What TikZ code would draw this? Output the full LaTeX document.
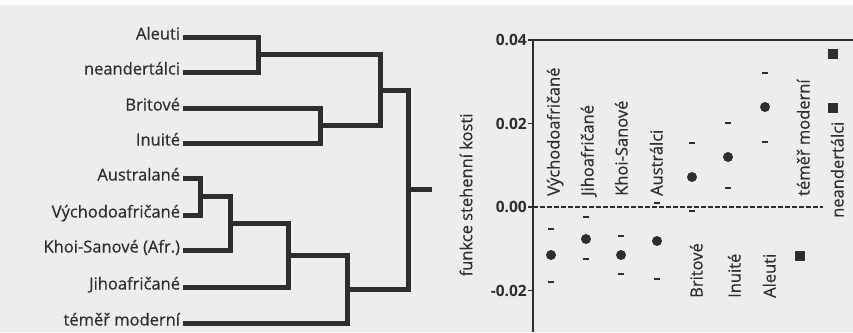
\documentclass[tikz,border=0pt]{standalone}
\usepackage{fontspec}
\setmainfont{Open Sans}
\newfontfamily\scanfont{Open Sans}[FakeBold=0.5]
\usetikzlibrary{calc}
\definecolor{ink}{HTML}{2E2E2E}
\definecolor{paper}{HTML}{EDEDED}
\newcommand{\labfont}{\scanfont\fontsize{16.5}{19}\selectfont}
\newcommand{\tickfont}{\bfseries\fontsize{15.5}{18}\selectfont}

\begin{document}
\begin{tikzpicture}[x=1pt,y=-1pt,
  leaf/.style={anchor=east,inner sep=0pt,outer sep=3pt,text height=0.72em,text depth=0.22em,font=\labfont,text=ink},
  grp/.style={rotate=90,anchor=west,inner sep=0pt,text height=0.72em,text depth=0.22em,font=\labfont,text=ink},
  branch/.style={line width=5pt,draw=ink},
  ticklab/.style={anchor=east,inner sep=1pt,font=\tickfont,text=ink},
  bar/.style={fill=ink,minimum width=6pt,minimum height=2pt,inner sep=0pt}]
\useasboundingbox (0,0) rectangle (853,332);
% scanned page
\fill[paper] (0,5) rectangle (853,332);
% tree leaves
\node[leaf] (aleuti)  at (183,37)  {Aleuti};
\node[leaf] (neand)   at (183,72)  {neandertálci};
\node[leaf] (brit)    at (183,108) {Britové};
\node[leaf] (inuit)   at (183,143) {Inuité};
\node[leaf] (austral) at (183,178) {Australané};
\node[leaf] (vychod)  at (183,215) {Východoafričané};
\node[leaf] (khoi)    at (183,250) {Khoi-Sanové (Afr.)};
\node[leaf] (jiho)    at (183,287) {Jihoafričané};
\node[leaf] (modern)  at (183,323) {téměř moderní};
% joins
\coordinate (j1) at (258,54.5);
\coordinate (j2) at (320,125.5);
\coordinate (j3) at (380,90);
\coordinate (j4) at (200,196.5);
\coordinate (j5) at (230,223);
\coordinate (j6) at (288,255);
\coordinate (j7) at (347,289);
\coordinate (root) at (408,189.5);
\coordinate (stub) at (432,189.5);
\draw[branch] (aleuti.east) -| (j1) |- (neand.east);
\draw[branch] (brit.east) -| (j2) |- (inuit.east);
\draw[branch] (j1) -| (j3) |- (j2);
\draw[branch] (austral.east) -| (j4) |- (vychod.east);
\draw[branch] (j4) -| (j5) |- (khoi.east);
\draw[branch] (j5) -| (j6) |- (jiho.east);
\draw[branch] (j6) -| (j7) |- (modern.east);
\draw[branch] (j3) -| (root) |- (j7);
\draw[branch] (root) -- (stub);
% axes
\draw[ink,line width=2.5pt] (533,332) -- (533,40) -- (853,40);
\foreach \v/\y [count=\i] in {0.04/40,0.02/123.5,0.00/207,-0.02/290.5} {
  \draw[ink,line width=1.2pt] (528,\y) -- (533,\y);
  \node[ticklab] (t\i) at (528,\y) {\v};
}
\node[rotate=90,font=\labfont,text=ink] (ylab) at (466,195) {funkce stehenní kosti};
\draw[ink,line width=1.2pt,dash pattern=on 5pt off 2pt] (533,207) -- (823,207);
% means with error bars
\foreach \x/\d/\hi/\lo [count=\i] in {551/255/229/282,586/239/217/259,621/255/236/274,
    657/241/203/279,692/177/143/211,728/157/123/188,765/107/73/142} {
  \fill[ink] (\x,\d) circle (5);
  \node[bar] (hi\i) at (\x,\hi) {};
  \node[bar] (lo\i) at (\x,\lo) {};
}
% single finds
\fill[ink] (795,251) rectangle (805,261);
\fill[ink] (828,49) rectangle (838,59);
\fill[ink] (828,103) rectangle (838,113);
% group names
\node[grp] (g1) at (557,196) {Východoafričané};
\node[grp] (g2) at (591,196) {Jihoafričané};
\node[grp] (g3) at (625,196) {Khoi-Sanové};
\node[grp] (g4) at (660,196) {Austrálci};
\node[grp] (g5) at (700,298) {Britové};
\node[grp] (g6) at (738,298) {Inuité};
\node[grp] (g7) at (773,298) {Aleuti};
\node[grp] (g8) at (807,196) {téměř moderní};
\node[grp] (g9) at (841,218) {neandertálci};
\end{tikzpicture}
\end{document}
